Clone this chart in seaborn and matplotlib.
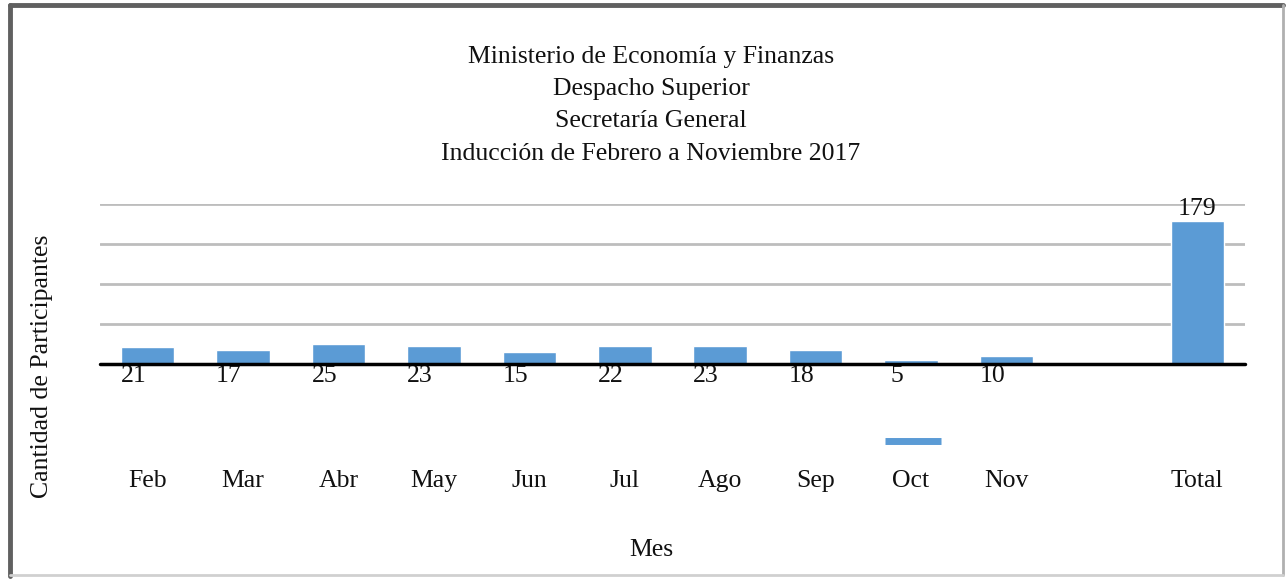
import matplotlib
matplotlib.use("Agg")
import matplotlib.pyplot as plt
from matplotlib.lines import Line2D
import pandas as pd
import seaborn as sns

# ── Données ────────────────────────────────────────────────────────────────────
meses = ["Feb", "Mar", "Abr", "May", "Jun", "Jul", "Ago", "Sep", "Oct", "Nov", "Total"]
participantes = [21, 17, 25, 23, 15, 22, 23, 18, 5, 10, 179]
orden = meses[:-1] + [" "] + ["Total"]   # hueco entre Nov y Total
titulo = ["Ministerio de Economía y Finanzas", "Despacho Superior",
          "Secretaría General", "Inducción de Febrero a Noviembre 2017"]

df = pd.DataFrame({"Mes": meses, "Cantidad": participantes})

sns.set_theme(style="white")
plt.rcParams["font.family"] = ["Liberation Serif", "DejaVu Serif"]
AZUL = "#5b9bd5"
FS = 18.5

fig = plt.figure(figsize=(12.87, 5.79), dpi=100)
ax = fig.add_axes([100 / 1287, 1 - 364 / 579, 1145 / 1287, 160 / 579])

sns.barplot(data=df, x="Mes", y="Cantidad", order=orden, color=AZUL,
            saturation=1, width=0.56, ax=ax)

ax.set_ylim(0, 200)
ax.set_xlim(-0.5, len(orden) - 0.5)
ax.set_yticks([50, 100, 150, 200])
ax.set_yticklabels([])
ax.yaxis.grid(True, color="#bdbdbd", linewidth=2)
ax.set_axisbelow(True)
for s in ax.spines.values():
    s.set_visible(False)
ax.axhline(0, color="black", linewidth=2.5, zorder=5, clip_on=False)
ax.tick_params(axis="x", length=0, pad=76, labelsize=FS, labelcolor="#111111")
ax.tick_params(axis="y", length=0)
ax.set_xlabel("")
ax.set_ylabel("")

# etiquetas de datos
for m, v in zip(meses, participantes):
    i = orden.index(m)
    if m == "Total":
        ax.text(i, v + 1, str(v), ha="center", va="bottom", fontsize=FS, color="#111111")
    else:
        ax.text(i - 0.15, -1, str(v), ha="center", va="top", fontsize=FS, color="#111111")

# títulos
fig.text(651 / 1287, 1 - 46 / 579, "\n".join(titulo), ha="center", va="top",
         fontsize=FS, linespacing=1.6, color="#111111")
fig.text(651 / 1287, 1 - 550 / 579, "Mes", ha="center", va="center", fontsize=FS, color="#111111")
fig.text(42 / 1287, 1 - 366 / 579, "Cantidad de Participantes", ha="center", va="center",
         rotation=90, fontsize=FS, color="#111111")

# leyenda sin texto
fig.legend(handles=[Line2D([], [], color=AZUL, linewidth=5, solid_capstyle="butt")], labels=[""],
           loc="center", bbox_to_anchor=(913 / 1287, 1 - 443 / 579),
           frameon=False, handlelength=2.2, handletextpad=0, fontsize=FS)

# marco
fig.add_artist(Line2D([10 / 1287, 10 / 1287], [0.005, 1 - 5 / 579], color="#606060", linewidth=3.5))
fig.add_artist(Line2D([10 / 1287, 1283 / 1287], [1 - 5 / 579, 1 - 5 / 579], color="#606060", linewidth=3.5))
fig.add_artist(Line2D([1283 / 1287, 1283 / 1287], [1 - 575 / 579, 1 - 5 / 579], color="#b0b0b0", linewidth=2))
fig.add_artist(Line2D([10 / 1287, 1283 / 1287], [1 - 575 / 579, 1 - 575 / 579], color="#d0d0d0", linewidth=2))

plt.savefig("out.png", dpi=100)
plt.close()
